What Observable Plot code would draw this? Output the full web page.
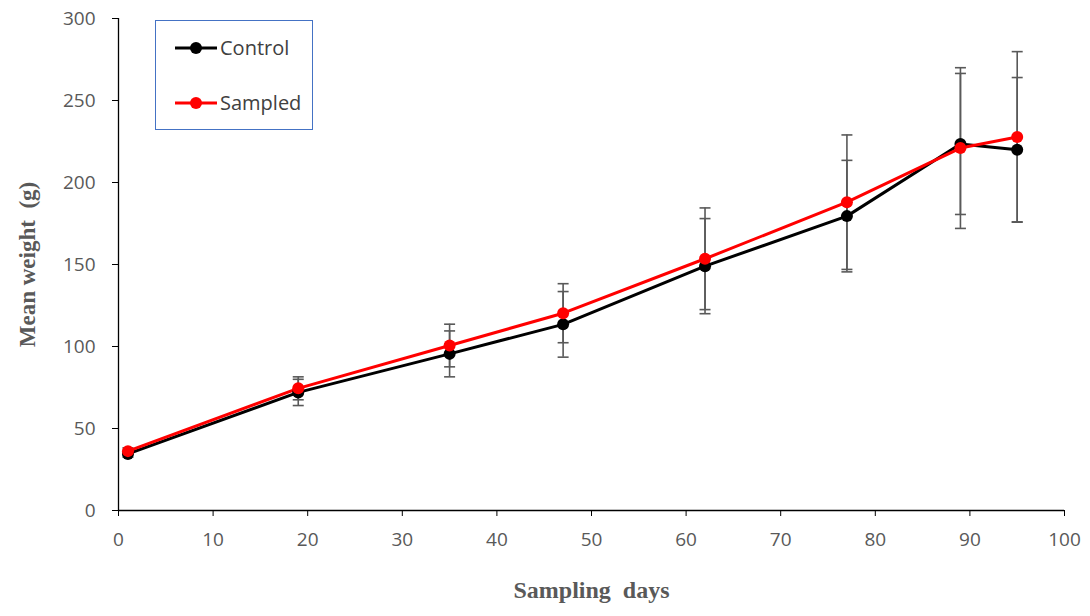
<!DOCTYPE html>
<html>
<head>
<meta charset="utf-8">
<script src="https://cdn.jsdelivr.net/npm/d3@7"></script>
<script src="https://cdn.jsdelivr.net/npm/@observablehq/plot@0.6"></script>
<style>
  html, body { margin: 0; padding: 0; background: #fff; }
  #wrap { position: relative; width: 1090px; height: 616px; }
  #legend { position: absolute; left: 155px; top: 20px; width: 158px; height: 110px;
    border: 1.3px solid #4472C4; box-sizing: border-box; background: #fff;
    font-family: "Open Sans", sans-serif; font-size: 20px; color: #404040; }
  .item { position: absolute; left: 18px; display: flex; align-items: center; }
  .item span { margin-left: 2px; }
</style>
</head>
<body>
<div id="wrap"></div>
<script>
const days = [1, 19, 35, 47, 62, 77, 89, 95];
const controlMean = [34.5, 72, 95.5, 113.5, 149, 179.5, 223.5, 220];
const controlErr = [2, 8, 14, 20, 29, 34, 43, 44];
const sampledMean = [36.2, 74.5, 100.6, 120.3, 153.5, 188, 221, 227.8];
const sampledErr = [2, 7, 13, 18, 31, 41, 49, 52];
const seriesNames = ["Control", "Sampled"];
const seriesColors = ["#000000", "#FF0000"];
const xTicks = [0, 10, 20, 30, 40, 50, 60, 70, 80, 90, 100];
const yTicks = [0, 50, 100, 150, 200, 250, 300];

const rows = [];
days.forEach((d, i) => {
  rows.push({series: "Control", day: d, mean: controlMean[i], err: controlErr[i]});
});
days.forEach((d, i) => {
  rows.push({series: "Sampled", day: d, mean: sampledMean[i], err: sampledErr[i]});
});
const caps = rows.flatMap(r => [{day: r.day, v: r.mean - r.err}, {day: r.day, v: r.mean + r.err}]);
const capSymbol = { draw(ctx, size) { ctx.moveTo(-5.5, 0); ctx.lineTo(5.5, 0); } };

const chart = Plot.plot({
  width: 1090, height: 616,
  marginLeft: 118, marginRight: 26, marginTop: 18, marginBottom: 106,
  x: {domain: [0, 100]},
  y: {domain: [0, 300]},
  color: {domain: seriesNames, range: seriesColors},
  style: {fontFamily: "Open Sans, sans-serif", fontSize: "19px", background: "#fff", overflow: "visible"},
  marks: [
    Plot.axisY({ticks: yTicks, tickSize: 6, tickPadding: 17, stroke: "#000", fill: "#595959", label: null, fontSize: 19}),
    Plot.axisX({ticks: xTicks, tickSize: 6, tickPadding: 16, stroke: "#000", fill: "#595959", label: null, fontSize: 19}),
    Plot.ruleX(rows, {x: "day", y1: r => r.mean - r.err, y2: r => r.mean + r.err, stroke: "#595959", strokeWidth: 1.6}),
    Plot.dot(caps, {x: "day", y: "v", symbol: capSymbol, stroke: "#595959", strokeWidth: 1.6, fill: "none"}),
    Plot.ruleY([0], {stroke: "#000", strokeWidth: 1.3}),
    Plot.ruleX([0], {stroke: "#000", strokeWidth: 1.3}),
    Plot.line(rows, {x: "day", y: "mean", z: "series", stroke: "series", strokeWidth: 3}),
    Plot.dot(rows, {x: "day", y: "mean", fill: "series", r: 6}),
    Plot.text(["Mean weight  (g)"], {frameAnchor: "left", textAnchor: "middle", dx: -91, rotate: -90, fontFamily: "Liberation Serif", fontWeight: "bold", fontSize: 23, fill: "#595959"}),
    Plot.text(["Sampling  days"], {frameAnchor: "bottom", dy: 87, fontFamily: "Liberation Serif", fontWeight: "bold", fontSize: 24, fill: "#595959"})
  ]
});
const wrap = document.getElementById("wrap");
wrap.appendChild(chart);

const legend = document.createElement("div");
legend.id = "legend";
seriesNames.forEach((name, i) => {
  const item = document.createElement("div");
  item.className = "item";
  item.style.top = (i === 0 ? 13 : 68) + "px";
  item.innerHTML = `<svg width="44" height="14"><line x1="1" y1="7" x2="43" y2="7" stroke="${seriesColors[i]}" stroke-width="3"/><circle cx="22" cy="7" r="6" fill="${seriesColors[i]}"/></svg><span>${name}</span>`;
  legend.appendChild(item);
});
wrap.appendChild(legend);
</script>
</body>
</html>
